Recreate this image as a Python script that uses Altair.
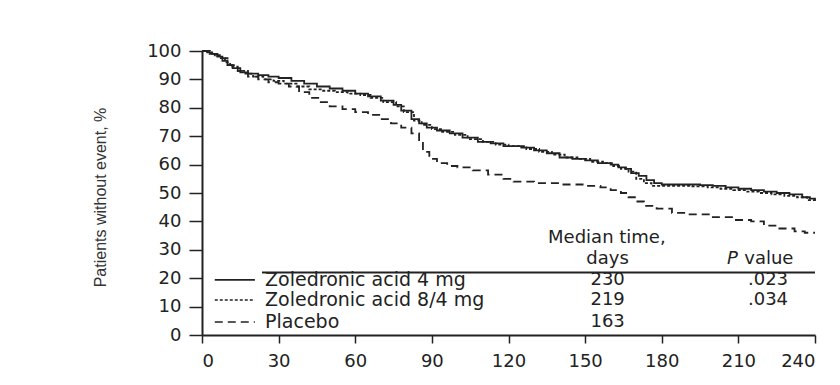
import altair as alt
import pandas as pd

# ---- data ----
series_names = ["Zoledronic acid 4 mg", "Zoledronic acid 8/4 mg", "Placebo"]

t_4mg = [0,2,4,6,8,10,12,15,18,22,26,30,35,40,45,50,55,60,65,70,75,78,82,85,88,92,97,102,108,113,
         118,125,130,135,140,145,150,155,160,163,166,168,171,174,177,180,190,195,200,205,210,215,220,225,230,235,238,240]
s_4mg = [100,99.5,99,98,96.5,95,94,92.5,92,91.5,91,90.5,89.5,88.5,87.5,86.8,86,85,84,82.5,81,79,76,74.5,73,72,71,69.5,68,67.5,
         66.5,66,65,64,62.5,62,61.5,60.5,60,59,58.5,57,56,54.5,53.5,53,53,52.8,52.5,52,51.5,51,50.5,50,49.5,48.5,48,47.5]

t_84mg = [0,3,5,7,9,11,14,17,20,24,28,32,37,42,47,52,57,62,66,71,76,79,83,86,90,94,99,104,110,115,
          120,127,132,137,142,147,152,157,161,164,167,170,173,176,179,185,192,198,203,208,213,218,223,228,233,237,240]
s_84mg = [100,99,98.5,97.5,96,94.5,93,92,91,90,89.5,88.5,87.5,86.5,86,85.5,85,84.5,83.5,82,80.5,78.5,75.5,74,72.5,71.5,70.5,69,68,67,
          66.5,65.5,64.5,63.5,62.5,62,61,60.5,59.5,58.5,57.5,55,53.5,52.5,52.5,52.5,52.3,52,51.5,51,50.5,50,49.5,49,48.5,47.5,46.5]

t_plac = [0,3,6,10,14,18,22,26,30,34,38,42,46,50,55,60,65,70,74,78,82,85,86.5,89,92,96,100,106,112,118,
          122,130,140,150,156,160,164,167,170,173,178,184,190,200,208,215,220,225,232,236,240]
s_plac = [100,99,97.5,95,93,91,90,89,88.5,87.5,85.5,83.5,82,80.5,79.5,78.5,77.5,76,74.5,73,71,68,64.5,62,60.5,59.5,59,58,56.5,55,
          54,53.5,53,52.5,52,51,50,48.5,47,45.5,44.5,43,42.5,41.5,40.5,40,38.5,37.5,36.5,36,36]

x_ticks = [0, 30, 60, 90, 120, 150, 180, 210, 240]
y_ticks = [0, 10, 20, 30, 40, 50, 60, 70, 80, 90, 100]

median_days = ["230", "219", "163"]
p_values = [".023", ".034", ""]

# annotation placement (data coordinates)
legend_rows_y = [19.4, 12.3, 4.6]
legend_line_x = (5.0, 20.7)
legend_label_x = 24.7
table_rule = (23.5, 240.0, 22.0)
median_col_x = 158.8
p_col_x = 221.6

FONT = "DejaVu Sans"
INK = "#222222"

frames = []
for name, t, s in [(series_names[0], t_4mg, s_4mg),
                   (series_names[1], t_84mg, s_84mg),
                   (series_names[2], t_plac, s_plac)]:
    frames.append(pd.DataFrame({"day": t, "pct": s, "series": name}))
curves_df = pd.concat(frames, ignore_index=True)

x_scale = alt.Scale(domain=[0, 240], nice=False, zero=False)
y_scale = alt.Scale(domain=[0, 100], nice=False)
dash_scale = alt.Scale(domain=series_names, range=[[1, 0], [3, 2], [8, 5]])

x_axis = alt.Axis(
    values=x_ticks, title=None, grid=False, tickSize=8, tickWidth=1.5,
    domainWidth=2, domainColor=INK, tickColor=INK, labelFont=FONT,
    labelFontSize=18, labelColor=INK, labelPadding=9, labelOverlap=False)
y_axis = alt.Axis(
    values=y_ticks, title="Patients without event, %", grid=False,
    tickSize=13, tickWidth=1.5, domainWidth=2, domainColor=INK, tickColor=INK,
    labelFont=FONT, labelFontSize=18, labelColor=INK, labelPadding=8,
    labelOverlap=False,
    titleFont="Liberation Sans", titleFontSize=16, titleFontWeight="normal",
    titleColor="#333333", titleX=-102, titleY=146, titleAlign="center",
    titleBaseline="middle", titleAngle=-90)


def X(field):
    return alt.X(field, scale=x_scale, axis=x_axis)


def Y(field):
    return alt.Y(field, scale=y_scale, axis=y_axis)


curves = alt.Chart(curves_df).mark_line(
    interpolate="step-after", color=INK, strokeWidth=1.8
).encode(
    x=X("day:Q"), y=Y("pct:Q"),
    strokeDash=alt.StrokeDash("series:N", scale=dash_scale, legend=None),
)

leg_df = pd.DataFrame({
    "series": series_names,
    "x1": [legend_line_x[0]] * 3,
    "x2": [legend_line_x[1]] * 3,
    "lx": [legend_label_x] * 3,
    "y": legend_rows_y,
    "days": median_days,
    "mx": [median_col_x] * 3,
    "p": p_values,
    "px": [p_col_x] * 3,
})

leg_lines = alt.Chart(leg_df).mark_rule(color=INK, strokeWidth=1.6).encode(
    x=X("x1:Q"), x2="x2:Q", y=Y("y:Q"),
    strokeDash=alt.StrokeDash("series:N", scale=dash_scale, legend=None),
)
leg_text = alt.Chart(leg_df).mark_text(
    align="left", baseline="middle", font=FONT, fontSize=19, color=INK
).encode(x=X("lx:Q"), y=Y("y:Q"), text="series:N")
days_text = alt.Chart(leg_df).mark_text(
    align="center", baseline="middle", font=FONT, fontSize=18, color=INK
).encode(x=X("mx:Q"), y=Y("y:Q"), text="days:N")
p_text = alt.Chart(leg_df).mark_text(
    align="center", baseline="middle", font=FONT, fontSize=18, color=INK
).encode(x=X("px:Q"), y=Y("y:Q"), text="p:N")

rule_df = pd.DataFrame({"x1": [table_rule[0]], "x2": [table_rule[1]], "y": [table_rule[2]]})
table_rule_mark = alt.Chart(rule_df).mark_rule(color=INK, strokeWidth=2).encode(
    x=X("x1:Q"), x2="x2:Q", y=Y("y:Q"))

head_df = pd.DataFrame({
    "x": [135.5, median_col_x, 212.3],
    "y": [34.2, 26.8, 26.8],
    "t": ["Median time,", "days", "value"],
    "a": ["left", "center", "left"],
})
head_left = alt.Chart(head_df[head_df.a == "left"]).mark_text(
    align="left", baseline="middle", font=FONT, fontSize=18, color=INK
).encode(x=X("x:Q"), y=Y("y:Q"), text="t:N")
head_center = alt.Chart(head_df[head_df.a == "center"]).mark_text(
    align="center", baseline="middle", font=FONT, fontSize=18, color=INK
).encode(x=X("x:Q"), y=Y("y:Q"), text="t:N")
p_df = pd.DataFrame({"x": [205.5], "y": [26.8], "t": ["P"]})
p_italic = alt.Chart(p_df).mark_text(
    align="left", baseline="middle", font=FONT, fontSize=18, fontStyle="italic", color=INK
).encode(x=X("x:Q"), y=Y("y:Q"), text="t:N")

chart = alt.layer(
    curves, leg_lines, leg_text, days_text, p_text, table_rule_mark,
    head_left, head_center, p_italic
).properties(
    width=613, height=284,
    autosize=alt.AutoSizeParams(type="none"),
    padding={"left": 194, "top": 43, "right": 17, "bottom": 40},
    background="white",
).configure_view(stroke=None)

chart.save("out.html", embed_options={"renderer": "svg", "actions": False})
